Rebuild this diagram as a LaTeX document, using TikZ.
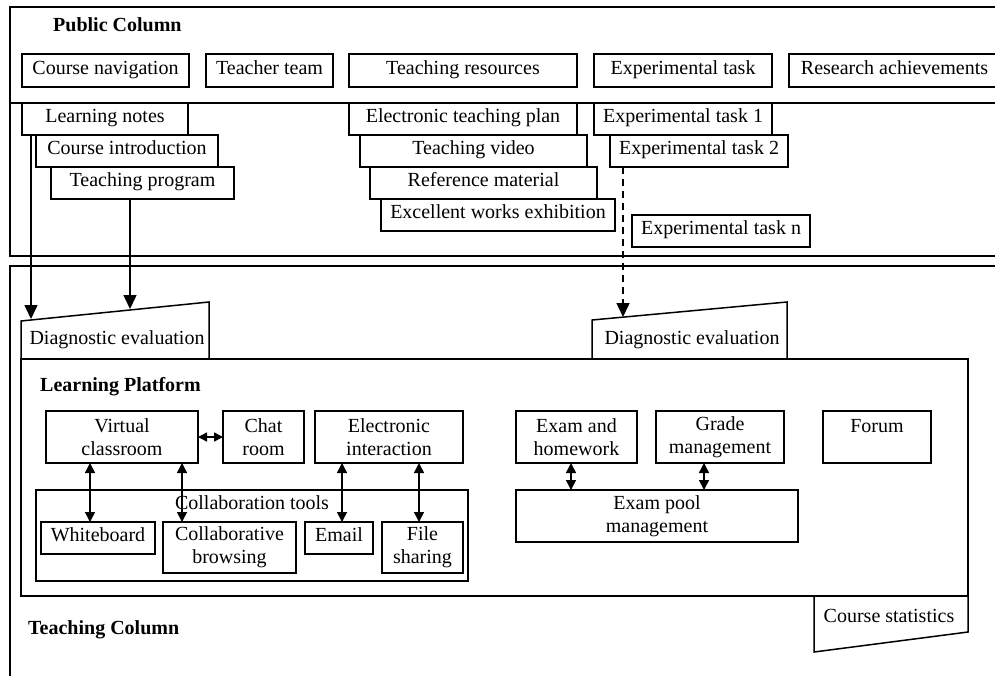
\documentclass[tikz,border=0pt]{standalone}
\usepackage{fontspec}
\setmainfont{Liberation Serif}
\usetikzlibrary{arrows.meta}
\newcommand\bxx[6]{\node[bx, one, minimum width={#4-#2}, minimum height={#5-#3}] (#1) at (#2,#3) {#6};}
\newcommand\bxy[6]{\node[bx, minimum width={#4-#2}, minimum height={#5-#3}] (#1) at (#2,#3) {#6};}
\begin{document}
\begin{tikzpicture}[x=1pt,y=-1pt,
  ln/.style={line width=1.5pt},
  one/.style={text height=13pt, text depth=6pt},
  bx/.style={draw, line width=1.5pt, inner sep=0pt, outer sep=0pt, anchor=north west, align=center, font=\fontsize{20}{23}\selectfont},
  txt/.style={inner sep=0pt, align=center, one, font=\fontsize{20}{23}\selectfont},
  ttl/.style={inner sep=0pt, anchor=west, one, font=\fontsize{20}{23}\selectfont\bfseries},
  arr/.style={line width=1.5pt, -{Triangle[length=14pt,width=13pt]}},
  darr/.style={line width=1.5pt, {Triangle[length=10pt,width=10pt]}-{Triangle[length=10pt,width=10pt]}},
  sarr/.style={line width=1.5pt, {Triangle[length=9pt,width=9pt]}-{Triangle[length=9pt,width=9pt]}},
]
\useasboundingbox[fill=white] (0,0) rectangle (995,675);
\clip (0,0) rectangle (995,675);

% Public column frame
\draw[ln] (10,7) rectangle (1005,256);
\draw[ln] (10,103) -- (1005,103);
\node[ttl] (pct) at (53,28) {Public Column};

\bxx{cn}{22}{54}{189}{87}{Course navigation}
\bxx{tt}{206}{54}{333}{87}{Teacher team}
\bxx{tr}{349}{54}{577}{87}{Teaching resources}
\bxx{et}{594}{54}{772}{87}{Experimental task}
\bxx{ra}{789}{54}{1000}{87}{Research achievements}

\bxx{lnotes}{22}{103}{188}{135}{Learning notes}
\bxx{ci}{36}{135}{218}{167}{Course introduction}
\bxx{tp}{51}{167}{234}{199}{Teaching program}
\bxx{etp}{349}{103}{577}{135}{Electronic teaching plan}
\bxx{tv}{360}{135}{587}{167}{Teaching video}
\bxx{rm}{370}{167}{597}{199}{Reference material}
\bxx{ewe}{381}{199}{615}{231}{Excellent works exhibition}
\bxx{et1}{594}{103}{772}{135}{Experimental task 1}
\bxx{et2}{610}{135}{788}{167}{Experimental task 2}
\bxx{etn}{632}{215}{810}{247}{Experimental task n}

% Teaching column frame
\draw[ln] (10,690) -- (10,266) -- (1005,266);
\node[ttl] (tct) at (28,631) {Teaching Column};

% Learning platform
\bxy{lp}{21}{359}{968}{596}{}
\node[ttl] (lpt) at (40,388) {Learning Platform};

% Diagnostic evaluation trapezoids
\draw[ln] (21,359) -- (21,321) -- (209,302) -- (209,359);
\node[txt] (de1) at (117,341) {Diagnostic evaluation};
\draw[ln] (592,359) -- (592,320) -- (787,302) -- (787,359);
\node[txt] (de2) at (692,341) {Diagnostic evaluation};

% Course statistics
\draw[ln] (814,596) -- (968,596) -- (968,632) -- (814,652) -- cycle;
\node[txt] (cs) at (889,619) {Course statistics};

% inner boxes
\bxy{vc}{46}{411}{198}{463}{Virtual\\classroom}
\bxy{cr}{223}{411}{304}{463}{Chat\\room}
\bxy{ei}{315}{411}{463}{463}{Electronic\\interaction}
\bxy{ct}{36}{490}{468}{581}{}
\node[txt] (ctl) at (252,506) {Collaboration tools};
\bxx{wb}{41}{522}{155}{554}{Whiteboard}
\bxy{cb}{163}{522}{296}{573}{Collaborative\\browsing}
\bxx{em}{305}{522}{373}{554}{Email}
\bxy{fs}{382}{522}{463}{573}{File\\sharing}
\bxy{eh}{516}{411}{637}{463}{Exam and\\homework}
\bxy{gm}{656}{411}{784}{463}{Grade\\management}
\bxy{fo}{823}{411}{931}{463}{Forum\\\mbox{}}
\bxy{ep}{516}{490}{798}{542}{Exam pool\\management}

% connectors
\coordinate (xa) at (31,0);
\coordinate (d1a) at (31,319);
\draw[arr] (lnotes.south -| xa) -- (d1a);
\coordinate (xb) at (130,0);
\coordinate (d1b) at (130,309);
\draw[arr] (tp.south -| xb) -- (d1b);
\coordinate (xc) at (623,0);
\coordinate (d2a) at (623,317);
\draw[arr, dash pattern=on 7pt off 5pt] (et2.south -| xc) -- (d2a);

\draw[sarr] (vc.east) -- (cr.west);
\coordinate (x1) at (90,0);
\draw[darr] (vc.south -| x1) -- (wb.north -| x1);
\coordinate (x2) at (182,0);
\draw[darr] (vc.south -| x2) -- (cb.north -| x2);
\coordinate (x3) at (342,0);
\draw[darr] (ei.south -| x3) -- (em.north -| x3);
\coordinate (x4) at (419,0);
\draw[darr] (ei.south -| x4) -- (fs.north -| x4);
\coordinate (x5) at (571,0);
\draw[darr] (eh.south -| x5) -- (ep.north -| x5);
\coordinate (x6) at (704,0);
\draw[darr] (gm.south -| x6) -- (ep.north -| x6);
\end{tikzpicture}
\end{document}
